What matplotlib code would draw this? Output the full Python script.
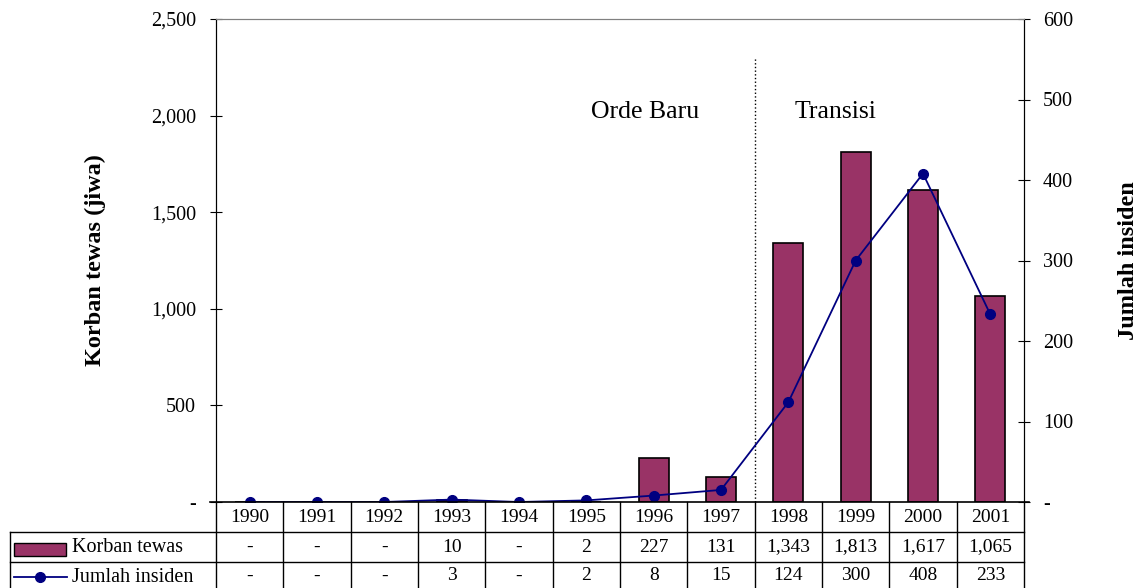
import matplotlib.pyplot as plt
from matplotlib.lines import Line2D
from matplotlib.patches import Rectangle
from matplotlib.transforms import blended_transform_factory
from matplotlib.ticker import FuncFormatter

plt.rcParams['font.family'] = ['Liberation Serif', 'DejaVu Serif']

years = ['1990', '1991', '1992', '1993', '1994', '1995', '1996', '1997',
         '1998', '1999', '2000', '2001']
korban = [0, 0, 0, 10, 0, 2, 227, 131, 1343, 1813, 1617, 1065]
insiden = [0, 0, 0, 3, 0, 2, 8, 15, 124, 300, 408, 233]

bar_col = '#993366'
line_col = '#000080'

W, H = 1144, 588
fig = plt.figure(figsize=(W / 100, H / 100), dpi=100)


def fx(x):
    return x / W


def fy(y):
    return 1 - y / H


ax = fig.add_axes([fx(216), fy(502), fx(1024) - fx(216), fy(19) - fy(502)])
x = list(range(len(years)))
ax.bar(x, korban, width=0.45, color=bar_col, edgecolor='black', linewidth=1.2, zorder=2)
ax.set_xlim(-0.5, len(years) - 0.5)
ax.set_ylim(0, 2500)
ax.set_yticks(range(0, 2501, 500))
ax.yaxis.set_major_formatter(FuncFormatter(lambda v, p: '-' if v == 0 else f'{int(v):,}'))
ax.set_xticks([])
ax.tick_params(axis='y', direction='inout', length=9, labelsize=14.5, pad=10)
ax.spines['top'].set_color('#808080')
ax.spines['bottom'].set_visible(False)
# boundary between Orde Baru and Transisi (between 1997 and 1998)
ax.axvline(7.5, ymin=0, ymax=(502 - 57) / 483, color='black', linestyle=':', linewidth=1)
ax.text(5.87, 2020, 'Orde Baru', ha='center', va='center', fontsize=18.5)
ax.text(8.7, 2020, 'Transisi', ha='center', va='center', fontsize=18.5)

ax2 = ax.twinx()
ax2.plot(x, insiden, color=line_col, marker='o', markersize=7, linewidth=1.3, zorder=3)
ax2.set_ylim(0, 600)
ax2.set_yticks(range(0, 601, 100))
ax2.yaxis.set_major_formatter(FuncFormatter(lambda v, p: '-' if v == 0 else f'{int(v)}'))
ax2.tick_params(axis='y', direction='inout', length=9, labelsize=14.5, pad=9)
ax2.spines['top'].set_color('#808080')
ax2.spines['bottom'].set_visible(False)

fig.text(fx(95), fy(260), 'Korban tewas (jiwa)', rotation=90, ha='center', va='center',
         fontsize=17.5, fontweight='bold')
fig.text(fx(1128), fy(261), 'Jumlah insiden', rotation=90, ha='center', va='center',
         fontsize=17.5, fontweight='bold')

# table below the plot
tr = blended_transform_factory(ax.transData, fig.transFigure)
ft = fig.transFigure
rows = [502, 532, 562, 590]
n = len(years)
fig.add_artist(Line2D([fx(210), fx(1029)], [fy(502), fy(502)], color='black', lw=1.2, transform=ft))
for r in rows[1:]:
    fig.add_artist(Line2D([fx(10), fx(1024)], [fy(r), fy(r)], color='black', lw=1, transform=ft))
fig.add_artist(Line2D([fx(10), fx(10)], [fy(532), fy(590)], color='black', lw=1, transform=ft))
for i in range(n + 1):
    fig.add_artist(Line2D([i - 0.5, i - 0.5], [fy(502), fy(590)], color='black', lw=1, transform=tr))


def fmt(v):
    return '-' if v == 0 else f'{v:,}'


for i in range(n):
    fig.text(i, fy(517), years[i], transform=tr, ha='center', va='center', fontsize=14)
    fig.text(i, fy(547), fmt(korban[i]), transform=tr, ha='center', va='center', fontsize=14)
    fig.text(i, fy(576), fmt(insiden[i]), transform=tr, ha='center', va='center', fontsize=14)

fig.add_artist(Rectangle((fx(14), fy(556)), fx(66) - fx(14), fy(543) - fy(556),
                         facecolor=bar_col, edgecolor='black', lw=1, transform=ft))
fig.text(fx(72), fy(548), 'Korban tewas', ha='left', va='center', fontsize=14.5)
fig.add_artist(Line2D([fx(14), fx(67)], [fy(577), fy(577)], color=line_col, lw=1.3, transform=ft))
fig.add_artist(Line2D([fx(40)], [fy(577)], color=line_col, marker='o', markersize=7, transform=ft))
fig.text(fx(72), fy(577), 'Jumlah insiden', ha='left', va='center', fontsize=14.5)

fig.savefig('out.png', dpi=100)
